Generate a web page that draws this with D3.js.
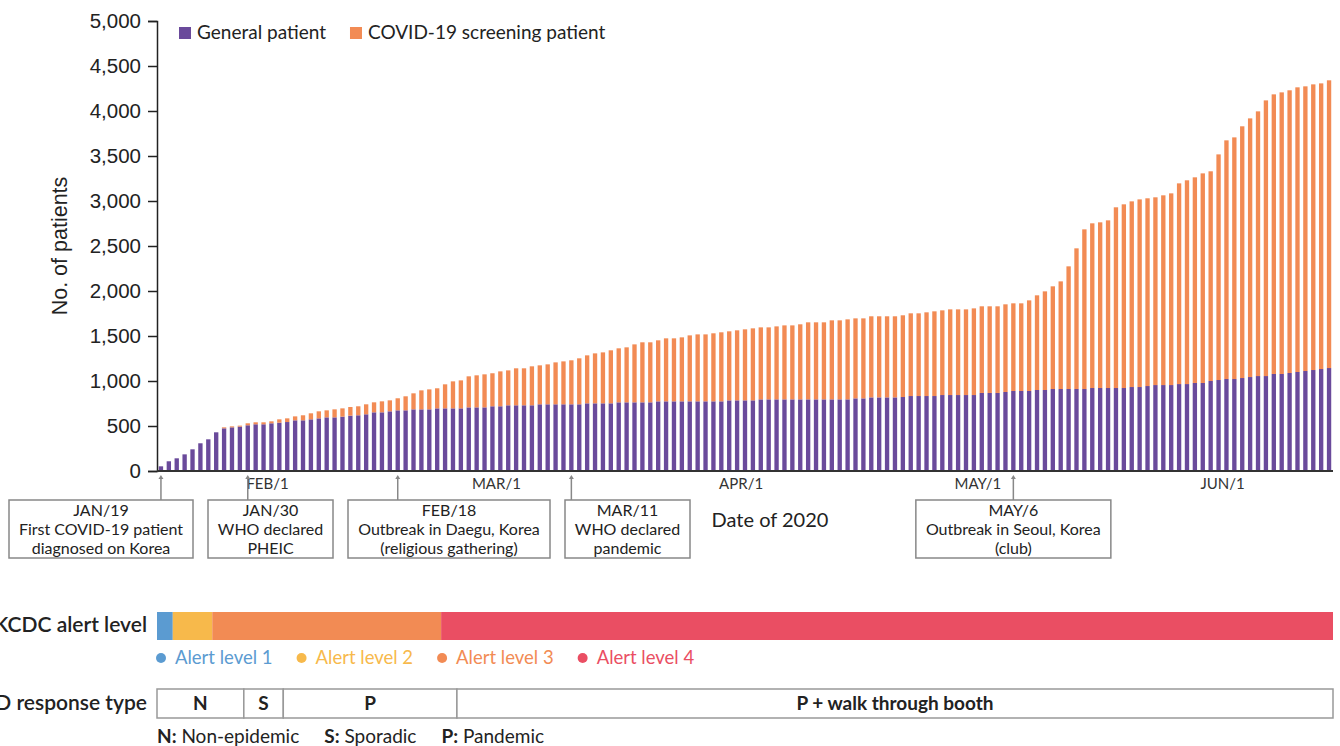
<!DOCTYPE html>
<html>
<head>
<meta charset="utf-8">
<script src="https://cdn.jsdelivr.net/npm/d3@7"></script>
<style>
  body { margin: 0; background: #fff; }
  svg { display: block; }
</style>
</head>
<body>
<div id="chart"></div>
<script>
// daily cumulative counts, Jan 19 - Jun 15 2020
var general = [
  52, 108, 141, 185, 241, 308, 352, 430, 474, 485,
  493, 508, 519, 519, 530, 537, 544, 563, 563, 574,
  585, 596, 596, 604, 615, 619, 630, 652, 652, 663,
  674, 674, 685, 685, 685, 696, 696, 696, 696, 707,
  707, 707, 719, 719, 730, 730, 730, 730, 741, 741,
  741, 741, 741, 741, 752, 752, 752, 752, 763, 763,
  763, 763, 763, 774, 774, 774, 774, 774, 774, 774,
  774, 774, 785, 785, 785, 785, 796, 796, 796, 796,
  796, 796, 796, 796, 796, 796, 796, 796, 807, 807,
  818, 818, 818, 818, 822, 833, 833, 833, 833, 844,
  844, 844, 844, 844, 867, 867, 867, 878, 889, 889,
  889, 900, 900, 911, 911, 911, 911, 911, 922, 922,
  922, 922, 922, 933, 933, 944, 955, 955, 955, 966,
  966, 978, 978, 1000, 1011, 1022, 1022, 1033, 1044, 1055,
  1055, 1078, 1078, 1089, 1100, 1111, 1122, 1133, 1144
];
var screening = [
  0, 0, 0, 0, 0, 0, 0, 0, 11, 11,
  11, 22, 22, 22, 22, 37, 41, 44, 56, 67,
  78, 78, 89, 92, 96, 100, 111, 111, 122, 122,
  134, 156, 178, 211, 222, 223, 267, 300, 311, 345,
  356, 367, 367, 388, 388, 411, 411, 433, 433, 444,
  466, 477, 489, 511, 533, 555, 566, 589, 600, 611,
  644, 667, 667, 678, 700, 700, 711, 733, 744, 744,
  756, 767, 767, 778, 789, 800, 800, 800, 811, 822,
  822, 834, 856, 856, 856, 878, 878, 889, 889, 889,
  901, 901, 901, 901, 908, 919, 919, 930, 941, 941,
  952, 952, 952, 963, 963, 963, 963, 974, 974, 974,
  1007, 1052, 1096, 1141, 1196, 1363, 1563, 1774, 1830, 1841,
  1863, 2008, 2041, 2063, 2085, 2086, 2086, 2108, 2130, 2230,
  2264, 2285, 2329, 2330, 2507, 2652, 2685, 2797, 2874, 2941,
  3063, 3107, 3129, 3141, 3163, 3163, 3174, 3174, 3197
];
var days = d3.timeDay.range(new Date(2020, 0, 19), new Date(2020, 5, 16));

var seriesKeys = ["general", "screening"];
var seriesNames = ["General patient", "COVID-19 screening patient"];
var seriesColors = ["#6a4a9b", "#f28b54"];

var yTicks = d3.range(0, 5001, 500);
var monthTicks = [new Date(2020, 1, 1), new Date(2020, 2, 1), new Date(2020, 3, 1), new Date(2020, 4, 1), new Date(2020, 5, 1)];

var eventDates = [new Date(2020, 0, 19), new Date(2020, 0, 30), new Date(2020, 1, 18), new Date(2020, 2, 11), new Date(2020, 4, 6)];
var eventLines = [
  ["JAN/19", "First COVID-19 patient", "diagnosed on Korea"],
  ["JAN/30", "WHO declared", "PHEIC"],
  ["FEB/18", "Outbreak in Daegu, Korea", "(religious gathering)"],
  ["MAR/11", "WHO declared", "pandemic"],
  ["MAY/6", "Outbreak in Seoul, Korea", "(club)"]
];

var alertNames = ["Alert level 1", "Alert level 2", "Alert level 3", "Alert level 4"];
var alertStarts = [new Date(2020, 0, 19), new Date(2020, 0, 21), new Date(2020, 0, 26), new Date(2020, 1, 24)];
var alertColors = ["#5b9bd1", "#f7b94b", "#f28b54", "#ea4e63"];

var responseNames = ["N", "S", "P", "P + walk through booth"];
var responseStarts = [new Date(2020, 0, 19), new Date(2020, 0, 30), new Date(2020, 1, 4), new Date(2020, 1, 26)];
var responseKeyCodes = ["N:", "S:", "P:"];
var responseKeyNames = ["Non-epidemic", "Sporadic", "Pandemic"];

// layout
var W = 1340, H = 746;
var plot = { left: 157, right: 1333, top: 21, bottom: 471 };
var uiFont = "Lato, 'Noto Sans', sans-serif";
var axisFont = "'Liberation Sans', Arial, sans-serif";

var svg = d3.select("#chart").append("svg")
  .attr("width", W)
  .attr("height", H);

var rows = days.map(function(d, i) {
  return { date: d, general: general[i], screening: screening[i] };
});
var stacked = d3.stack().keys(seriesKeys)(rows);

var x = d3.scaleBand()
  .domain(days.map(function(d) { return +d; }))
  .range([plot.left, plot.right])
  .paddingInner(0.45)
  .paddingOuter(0.225);

var y = d3.scaleLinear()
  .domain([0, 5000])
  .range([plot.bottom, plot.top]);

function xc(d) { return x(+d3.timeDay.floor(d)) + x.bandwidth() / 2; }
function xl(d) { return plot.left + x.step() * d3.timeDay.count(days[0], d); }

// bars
svg.append("g")
  .selectAll("g")
  .data(stacked)
  .enter().append("g")
    .attr("fill", function(d, i) { return seriesColors[i]; })
  .selectAll("rect")
  .data(function(d) { return d; })
  .enter().append("rect")
    .attr("x", function(d) { return x(+d.data.date); })
    .attr("y", function(d) { return y(d[1]); })
    .attr("width", x.bandwidth())
    .attr("height", function(d) { return y(d[0]) - y(d[1]); });

// y axis
var yAxis = svg.append("g")
  .attr("transform", "translate(" + plot.left + ",0)")
  .call(d3.axisLeft(y).tickValues(yTicks).tickFormat(d3.format(",")).tickSize(9).tickPadding(7));
yAxis.select(".domain").attr("stroke", "#222").attr("stroke-width", 1.5);
yAxis.selectAll(".tick line").attr("stroke", "#222").attr("stroke-width", 1.5);
yAxis.selectAll("text")
  .attr("font-family", axisFont)
  .attr("font-size", 20.5)
  .attr("fill", "#222");

svg.append("text")
  .attr("transform", "translate(67," + ((plot.top + plot.bottom) / 2) + ") rotate(-90)")
  .attr("text-anchor", "middle")
  .attr("font-family", axisFont)
  .attr("font-size", 21.5)
  .attr("fill", "#222")
  .text("No. of patients");

// x baseline
svg.append("line")
  .attr("x1", plot.left).attr("x2", plot.right)
  .attr("y1", plot.bottom).attr("y2", plot.bottom)
  .attr("stroke", "#333").attr("stroke-width", 2);

// month labels
svg.append("g")
  .selectAll("text")
  .data(monthTicks)
  .enter().append("text")
    .attr("x", function(d) { return xc(d) + 4; })
    .attr("y", 489)
    .attr("text-anchor", "middle")
    .attr("font-family", uiFont)
    .attr("font-size", 15)
    .attr("fill", "#333")
    .text(function(d) { return d3.timeFormat("%b")(d).toUpperCase() + "/" + d.getDate(); });

svg.append("text")
  .attr("x", 770).attr("y", 527)
  .attr("text-anchor", "middle")
  .attr("font-family", uiFont)
  .attr("font-size", 20)
  .attr("fill", "#222")
  .text("Date of 2020");

// legend
var legend = svg.append("g").attr("transform", "translate(179,27)");
var lx = 0;
seriesNames.forEach(function(name, i) {
  var g = legend.append("g").attr("transform", "translate(" + lx + ",0)");
  g.append("rect").attr("width", 12).attr("height", 12).attr("fill", seriesColors[i]);
  var t = g.append("text")
    .attr("x", 18).attr("y", 12)
    .attr("font-family", uiFont)
    .attr("font-size", 19)
    .attr("fill", "#222")
    .text(name);
  lx += 18 + t.node().getComputedTextLength() + 24;
});

// event annotations
var boxTop = 500, boxH = 58, gap = 15, cursor = 9;
var notes = svg.append("g");
eventDates.forEach(function(d, i) {
  var ex = xc(d);
  var g = notes.append("g");
  var rect = g.append("rect");
  var widest = 0;
  eventLines[i].forEach(function(line, j) {
    var t = g.append("text")
      .attr("y", boxTop + 16 + j * 19)
      .attr("text-anchor", "middle")
      .attr("font-family", uiFont)
      .attr("font-size", 16)
      .attr("fill", "#222")
      .text(line);
    widest = Math.max(widest, t.node().getComputedTextLength());
  });
  var w = Math.round(widest + 20);
  var left = cursor;
  if (ex - w / 2 > cursor + w) left = ex - w / 2;
  cursor = left + w + gap;
  rect.attr("x", left).attr("y", boxTop).attr("width", w).attr("height", boxH)
    .attr("fill", "#fff").attr("stroke", "#888").attr("stroke-width", 1.5);
  g.selectAll("text").attr("x", left + w / 2);
  g.append("line")
    .attr("x1", ex).attr("x2", ex)
    .attr("y1", 477).attr("y2", boxTop)
    .attr("stroke", "#888").attr("stroke-width", 1.5);
  g.append("path")
    .attr("d", "M" + (ex - 2.5) + ",479L" + ex + ",475L" + (ex + 2.5) + ",479Z")
    .attr("fill", "#888");
});

// KCDC alert strip
var stripTop = 612, stripH = 28;
svg.append("text")
  .attr("x", 147).attr("y", stripTop + 20)
  .attr("text-anchor", "end")
  .attr("font-family", uiFont)
  .attr("font-size", 21)
  .attr("font-weight", 600)
  .attr("fill", "#222")
  .text("KCDC alert level");

svg.append("g")
  .selectAll("rect")
  .data(alertStarts)
  .enter().append("rect")
    .attr("x", function(d) { return xl(d); })
    .attr("y", stripTop)
    .attr("width", function(d, i) { return (i < alertStarts.length - 1 ? xl(alertStarts[i + 1]) : plot.right) - xl(d); })
    .attr("height", stripH)
    .attr("fill", function(d, i) { return alertColors[i]; });

var alertKey = svg.append("g").attr("transform", "translate(161,658)");
var ax = 0;
alertNames.forEach(function(name, i) {
  var g = alertKey.append("g").attr("transform", "translate(" + ax + ",0)");
  g.append("circle").attr("r", 5).attr("fill", alertColors[i]);
  var t = g.append("text")
    .attr("x", 14).attr("y", 6)
    .attr("font-family", uiFont)
    .attr("font-size", 18.5)
    .attr("fill", alertColors[i])
    .text(name);
  ax += 14 + t.node().getComputedTextLength() + 29;
});

// response type strip
var respTop = 689, respH = 29;
svg.append("text")
  .attr("x", 147).attr("y", respTop + 21)
  .attr("text-anchor", "end")
  .attr("font-family", uiFont)
  .attr("font-size", 21)
  .attr("font-weight", 600)
  .attr("fill", "#222")
  .text("ED response type");

var resp = svg.append("g")
  .selectAll("g")
  .data(responseStarts)
  .enter().append("g");
resp.append("rect")
  .attr("x", function(d) { return xl(d); })
  .attr("y", respTop)
  .attr("width", function(d, i) { return (i < responseStarts.length - 1 ? xl(responseStarts[i + 1]) : plot.right) - xl(d); })
  .attr("height", respH)
  .attr("fill", "#fff")
  .attr("stroke", "#999")
  .attr("stroke-width", 1.5);
resp.append("text")
  .attr("x", function(d, i) {
    var x1 = i < responseStarts.length - 1 ? xl(responseStarts[i + 1]) : plot.right;
    return (xl(d) + x1) / 2;
  })
  .attr("y", respTop + 21)
  .attr("text-anchor", "middle")
  .attr("font-family", uiFont)
  .attr("font-size", 19)
  .attr("font-weight", 700)
  .attr("fill", "#222")
  .text(function(d, i) { return responseNames[i]; });

var respKey = svg.append("text")
  .attr("x", 157).attr("y", 743)
  .attr("font-family", uiFont)
  .attr("font-size", 19)
  .attr("fill", "#222");
responseKeyCodes.forEach(function(code, i) {
  respKey.append("tspan").attr("font-weight", 700).attr("dx", i ? 25 : 0).text(code);
  respKey.append("tspan").text(" " + responseKeyNames[i]);
});
</script>
</body>
</html>
